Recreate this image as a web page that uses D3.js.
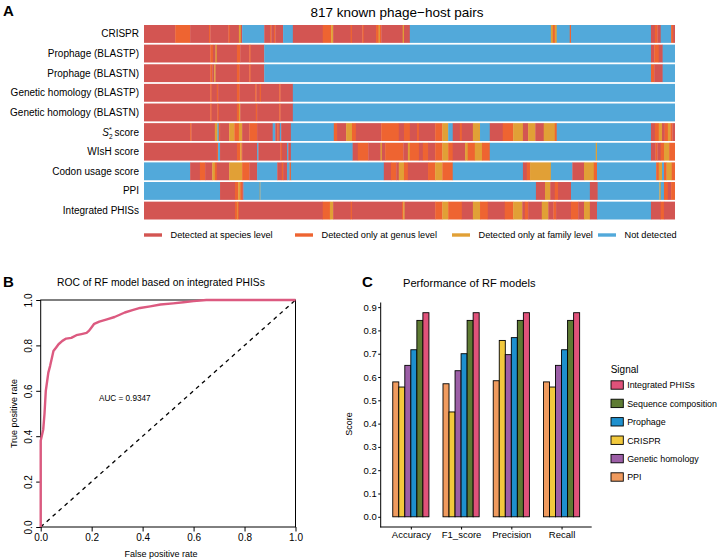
<!DOCTYPE html>
<html lang="en">
<head>
<meta charset="UTF-8">
<title>PHISs figure</title>
<script src="https://cdnjs.cloudflare.com/ajax/libs/d3/7.8.5/d3.min.js"></script>
<style>
  body { margin: 0; background: #fff; }
  svg { display: block; font-family: "Liberation Sans", Arial, sans-serif; }
</style>
</head>
<body>
<div id="fig"></div>
<script>
// ---------- Panel A data: run-length segments [startColumn, status] over 817 pairs ----------
const nPairs = 817;
const statusNames = ["Detected at species level", "Detected only at genus level", "Detected only at family level", "Not detected"];
const statusCodes = ["S", "G", "F", "N"];

const crisprRow = [[0,"S"],[48,"G"],[71,"S"],[100,"G"],[102,"S"],[130,"G"],[132,"S"],[146,"F"],[149,"S"],[151,"N"],[185,"S"],[194,"G"],[196,"S"],[200,"G"],[202,"S"],[214,"N"],[229,"S"],[275,"G"],[288,"F"],[291,"S"],[318,"G"],[320,"S"],[336,"G"],[338,"S"],[357,"G"],[361,"F"],[363,"G"],[365,"S"],[398,"F"],[400,"S"],[409,"N"],[626,"F"],[629,"G"],[632,"F"],[635,"N"],[655,"G"],[657,"N"],[780,"S"],[786,"G"],[790,"S"],[795,"N"],[811,"G"],[814,"S"]];
const prophagePRow = [[0,"S"],[102,"G"],[106,"S"],[110,"F"],[112,"S"],[143,"G"],[148,"S"],[162,"G"],[164,"S"],[185,"N"],[780,"S"],[785,"G"],[792,"S"],[798,"N"]];
const prophageNRow = [[0,"S"],[102,"G"],[105,"S"],[108,"F"],[110,"S"],[143,"G"],[147,"S"],[162,"G"],[164,"S"],[185,"N"],[780,"G"],[785,"S"],[798,"N"]];
const homologyPRow = [[0,"S"],[102,"G"],[104,"S"],[112,"G"],[114,"S"],[143,"G"],[147,"S"],[171,"G"],[173,"S"],[178,"G"],[180,"S"],[208,"G"],[210,"S"],[229,"N"]];
const homologyNRow = [[0,"S"],[102,"G"],[104,"S"],[113,"G"],[115,"S"],[143,"G"],[146,"F"],[148,"S"],[172,"G"],[174,"S"],[208,"G"],[210,"S"],[229,"N"]];
const s2Row = [[0,"S"],[71,"G"],[73,"S"],[109,"F"],[113,"N"],[115,"G"],[117,"S"],[131,"F"],[139,"G"],[146,"F"],[151,"S"],[162,"G"],[174,"S"],[198,"N"],[202,"S"],[205,"G"],[207,"S"],[209,"N"],[211,"S"],[226,"N"],[292,"G"],[297,"S"],[311,"F"],[320,"G"],[326,"S"],[365,"G"],[392,"S"],[400,"G"],[409,"S"],[420,"G"],[423,"S"],[448,"G"],[459,"F"],[468,"N"],[475,"S"],[486,"G"],[489,"S"],[506,"F"],[517,"N"],[532,"S"],[552,"G"],[568,"F"],[583,"S"],[591,"F"],[602,"S"],[615,"F"],[632,"G"],[635,"N"],[780,"S"],[786,"G"],[792,"F"],[797,"S"],[801,"G"],[806,"F"],[810,"G"],[813,"S"]];
const wishRow = [[0,"S"],[112,"G"],[114,"N"],[117,"S"],[143,"G"],[148,"F"],[150,"G"],[151,"S"],[174,"N"],[176,"S"],[210,"G"],[212,"S"],[220,"N"],[222,"S"],[226,"N"],[321,"S"],[329,"G"],[345,"S"],[364,"F"],[366,"S"],[371,"G"],[399,"S"],[406,"F"],[409,"G"],[423,"S"],[429,"G"],[437,"S"],[448,"G"],[459,"F"],[468,"G"],[475,"S"],[494,"F"],[498,"G"],[509,"F"],[520,"G"],[532,"N"],[695,"F"],[697,"N"],[780,"S"],[787,"G"],[790,"S"],[795,"G"],[800,"F"],[808,"G"]];
const codonRow = [[0,"N"],[71,"S"],[86,"G"],[94,"S"],[105,"F"],[109,"G"],[112,"S"],[131,"F"],[151,"G"],[162,"S"],[174,"N"],[205,"S"],[212,"G"],[214,"S"],[220,"N"],[224,"G"],[226,"N"],[369,"S"],[380,"G"],[388,"S"],[392,"F"],[400,"G"],[406,"S"],[437,"G"],[448,"F"],[459,"G"],[475,"N"],[583,"S"],[589,"G"],[594,"F"],[626,"N"],[659,"S"],[677,"F"],[692,"G"],[697,"N"],[788,"G"],[792,"F"],[797,"N"],[800,"G"],[804,"F"],[812,"G"]];
const ppiRow = [[0,"N"],[117,"S"],[140,"G"],[145,"F"],[148,"G"],[151,"S"],[153,"N"],[178,"F"],[179,"N"],[603,"S"],[617,"F"],[625,"S"],[632,"G"],[637,"S"],[657,"N"],[686,"S"],[698,"N"],[793,"F"],[795,"N"],[800,"G"],[806,"S"],[811,"G"]];
const integratedRow = [[0,"S"],[140,"G"],[143,"F"],[144,"G"],[146,"S"],[275,"G"],[286,"F"],[291,"S"],[318,"G"],[320,"S"],[397,"G"],[399,"F"],[401,"S"],[448,"G"],[459,"F"],[468,"G"],[489,"S"],[506,"F"],[517,"G"],[529,"S"],[555,"G"],[568,"F"],[582,"S"],[586,"G"],[591,"S"],[612,"F"],[622,"S"],[630,"G"],[634,"S"],[657,"G"],[668,"S"],[677,"F"],[686,"S"],[697,"N"],[780,"S"],[795,"G"],[800,"S"]];

const rowNames = ["CRISPR", "Prophage (BLASTP)", "Prophage (BLASTN)", "Genetic homology (BLASTP)", "Genetic homology (BLASTN)", "S2* score", "WIsH score", "Codon usage score", "PPI", "Integrated PHISs"];
const rowSegments = [crisprRow, prophagePRow, prophageNRow, homologyPRow, homologyNRow, s2Row, wishRow, codonRow, ppiRow, integratedRow];

// ---------- Panel B data: ROC curve ----------
const rocFpr = [0, 0, 0.004, 0.01, 0.015, 0.02, 0.025, 0.03, 0.037, 0.045, 0.05, 0.06, 0.07, 0.085, 0.1, 0.12, 0.14, 0.16, 0.18, 0.19, 0.2, 0.21, 0.23, 0.26, 0.29, 0.31, 0.33, 0.36, 0.39, 0.43, 0.47, 0.52, 0.56, 0.6, 0.65, 1.0];
const rocTpr = [0, 0.38, 0.40, 0.43, 0.5, 0.6, 0.64, 0.68, 0.71, 0.75, 0.775, 0.79, 0.805, 0.82, 0.83, 0.833, 0.845, 0.85, 0.855, 0.865, 0.88, 0.895, 0.905, 0.915, 0.925, 0.935, 0.945, 0.955, 0.965, 0.972, 0.98, 0.985, 0.99, 0.995, 1.0, 1.0];
const aucLabel = "AUC = 0.9347";
const rocTicks = [0, 0.2, 0.4, 0.6, 0.8, 1.0];

// ---------- Panel C data: performance scores ----------
const metrics = ["Accuracy", "F1_score", "Precision", "Recall"];
const signals = ["PPI", "CRISPR", "Genetic homology", "Prophage", "Sequence composition", "Integrated PHISs"];
const legendOrder = ["Integrated PHISs", "Sequence composition", "Prophage", "CRISPR", "Genetic homology", "PPI"];
const scorePPI = [0.579, 0.571, 0.584, 0.579];
const scoreCRISPR = [0.557, 0.450, 0.757, 0.557];
const scoreHomology = [0.650, 0.627, 0.696, 0.650];
const scoreProphage = [0.717, 0.700, 0.769, 0.717];
const scoreSequence = [0.843, 0.843, 0.843, 0.843];
const scoreIntegrated = [0.876, 0.876, 0.876, 0.876];
const scoreTicks = [0, 0.1, 0.2, 0.3, 0.4, 0.5, 0.6, 0.7, 0.8, 0.9];

const statusColor = d3.scaleOrdinal().domain(statusCodes).range(["#D35552", "#EE6431", "#E1A036", "#52A9DA"]);
const signalColor = d3.scaleOrdinal().domain(signals).range(["#F09B5F", "#F2C93D", "#9C5EA6", "#1E90CE", "#5E7B33", "#E0527A"]);

const svg = d3.select("#fig").append("svg").attr("width", 718).attr("height", 559);
svg.append("rect").attr("width", 718).attr("height", 559).attr("fill", "#fff");

function panelLabel(t, x, y) {
  svg.append("text").attr("x", x).attr("y", y).attr("font-size", 15).attr("font-weight", "bold").text(t);
}

// ================= Panel A =================
panelLabel("A", 3, 16);
svg.append("text").attr("x", 397).attr("y", 17).attr("text-anchor", "middle").attr("font-size", 13.5)
  .text("817 known phage\u2212host pairs");

const xA = d3.scaleLinear().domain([0, nPairs]).range([144, 675]);
const yA = d3.scaleBand().domain(rowNames).range([25, 219.5]).paddingInner(0.09);

const gA = svg.append("g");
rowNames.forEach((name, i) => {
  const segs = rowSegments[i].map((s, j, arr) => ({ start: s[0], end: j + 1 < arr.length ? arr[j + 1][0] : nPairs, code: s[1] }));
  gA.selectAll(null).data(segs).enter().append("rect")
    .attr("x", d => xA(d.start))
    .attr("width", d => xA(d.end) - xA(d.start) + (d.end < nPairs ? 0.3 : 0))
    .attr("y", yA(name))
    .attr("height", yA.bandwidth())
    .attr("fill", d => statusColor(d.code));
});

// row labels
rowNames.forEach(name => {
  const t = svg.append("text").attr("x", 139).attr("y", yA(name) + yA.bandwidth() / 2).attr("dy", "0.35em")
    .attr("text-anchor", "end").attr("font-size", 10);
  if (name === "S2* score") {
    t.append("tspan").attr("font-style", "italic").text("S");
    t.append("tspan").attr("font-size", 6.5).attr("dy", 3).text("2");
    t.append("tspan").attr("font-size", 7).attr("dx", -3.6).attr("dy", -7).text("*");
    t.append("tspan").attr("dy", 4).text(" score");
  } else {
    t.text(name);
  }
});

// legend A
const legA = [144, 295, 452, 598];
statusCodes.forEach((c, i) => {
  svg.append("rect").attr("x", legA[i]).attr("y", 233.3).attr("width", 18).attr("height", 3.4).attr("fill", statusColor(c));
  svg.append("text").attr("x", legA[i] + 26.5).attr("y", 238.3).attr("font-size", 9.2).text(statusNames[i]);
});

// ================= Panel B =================
panelLabel("B", 3, 287);
svg.append("text").attr("x", 161).attr("y", 286).attr("text-anchor", "middle").attr("font-size", 10.3)
  .text("ROC of RF model based on integrated PHISs");

const xB = d3.scaleLinear().domain([0, 1]).range([40.7, 295.5]);
const yB = d3.scaleLinear().domain([0, 1]).range([527, 300]);

const axB = svg.append("g").attr("transform", "translate(0,527)")
  .call(d3.axisBottom(xB).tickValues(rocTicks).tickFormat(d3.format(".1f")).tickSize(4.5).tickPadding(2.5));
axB.selectAll("text").attr("font-size", 10).attr("font-family", "Liberation Sans, Arial, sans-serif").attr("fill", "#000");

const ayB = svg.append("g").attr("transform", "translate(40.7,0)")
  .call(d3.axisLeft(yB).tickValues(rocTicks).tickFormat(d3.format(".1f")).tickSize(4.5));
ayB.selectAll("text").attr("font-size", 10).attr("font-family", "Liberation Sans, Arial, sans-serif").attr("fill", "#000")
  .attr("transform", "rotate(-90)").attr("x", 0).attr("y", -8.5).attr("dy", 0).attr("text-anchor", "middle");
svg.selectAll(".domain").remove();

svg.append("rect").attr("x", xB(0)).attr("y", yB(1)).attr("width", xB(1) - xB(0)).attr("height", yB(0) - yB(1))
  .attr("fill", "none").attr("stroke", "#000").attr("stroke-width", 1);

svg.append("line").attr("x1", xB(0)).attr("y1", yB(0)).attr("x2", xB(1)).attr("y2", yB(1))
  .attr("stroke", "#000").attr("stroke-width", 1.3).attr("stroke-dasharray", "4,4");

const rocPts = rocFpr.map((f, i) => [f, rocTpr[i]]);
svg.append("path").datum(rocPts)
  .attr("fill", "none").attr("stroke", "#DC5A80").attr("stroke-width", 2.4).attr("stroke-linejoin", "round")
  .attr("d", d3.line().x(d => xB(d[0])).y(d => yB(d[1])));

svg.append("text").attr("x", xB(0.33)).attr("y", yB(0.57) + 3).attr("text-anchor", "middle").attr("font-size", 8.2).text(aucLabel);

svg.append("text").attr("x", 161).attr("y", 557).attr("text-anchor", "middle").attr("font-size", 9).text("False positive rate");
svg.append("text").attr("transform", "translate(17,413.5) rotate(-90)").attr("text-anchor", "middle").attr("font-size", 9).text("True positive rate");

// ================= Panel C =================
panelLabel("C", 362, 287);
svg.append("text").attr("x", 403).attr("y", 287).attr("font-size", 11.1).text("Performance of RF models");

const scoreTable = [scorePPI, scoreCRISPR, scoreHomology, scoreProphage, scoreSequence, scoreIntegrated];
const bars = [];
metrics.forEach((m, mi) => signals.forEach((s, si) => bars.push({ metric: m, signal: s, value: scoreTable[si][mi] })));

const maxScore = d3.max(bars, d => d.value);
const yC = d3.scaleLinear().domain([-0.05 * maxScore, maxScore * 1.05]).range([527, 302.5]);
const xC = d3.scalePoint().domain(metrics).range([380.7, 591.7]).padding(0.6);
const groupWidth = xC.step() * 0.72;
const xInner = d3.scaleBand().domain(signals).range([-groupWidth / 2, groupWidth / 2]);

svg.append("g").selectAll("rect").data(bars).enter().append("rect")
  .attr("x", d => xC(d.metric) + xInner(d.signal))
  .attr("width", xInner.bandwidth())
  .attr("y", d => yC(d.value))
  .attr("height", d => yC(0) - yC(d.value))
  .attr("fill", d => signalColor(d.signal))
  .attr("stroke", "#000").attr("stroke-width", 0.9);

const ayC = svg.append("g").attr("transform", "translate(380.7,0)")
  .call(d3.axisLeft(yC).tickValues(scoreTicks).tickFormat(d3.format(".1f")).tickSize(2.5).tickPadding(1.5));
const axC = svg.append("g").attr("transform", "translate(0,527)")
  .call(d3.axisBottom(xC).tickSize(2.5).tickPadding(2));
[ayC, axC].forEach(a => {
  a.selectAll("text").attr("font-size", 9.5).attr("font-family", "Liberation Sans, Arial, sans-serif").attr("fill", "#000");
  a.select(".domain").remove();
});
svg.append("line").attr("x1", 380.7).attr("x2", 380.7).attr("y1", yC.range()[1]).attr("y2", 527.4).attr("stroke", "#000").attr("stroke-width", 1);
svg.append("line").attr("x1", 380.2).attr("x2", 591.7).attr("y1", 527).attr("y2", 527).attr("stroke", "#000").attr("stroke-width", 1);

svg.append("text").attr("transform", "translate(351.5,424) rotate(-90)").attr("text-anchor", "middle").attr("font-size", 9).text("Score");

// legend C
svg.append("text").attr("x", 610.7).attr("y", 372.5).attr("font-size", 10).text("Signal");
legendOrder.forEach((s, i) => {
  const cy = 385 + i * 18.4;
  svg.append("rect").attr("x", 611).attr("y", cy - 4.2).attr("width", 12.3).attr("height", 8.4)
    .attr("fill", signalColor(s)).attr("stroke", "#000").attr("stroke-width", 0.9);
  svg.append("text").attr("x", 627.2).attr("y", cy + 3.3).attr("font-size", 8.9).text(s);
});
</script>
</body>
</html>
